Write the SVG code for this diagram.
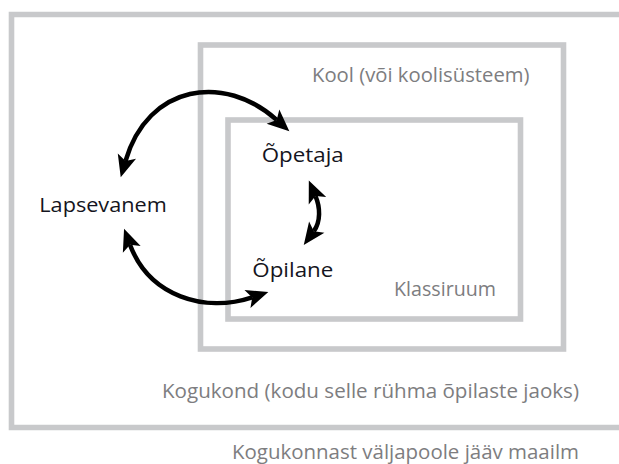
<svg xmlns="http://www.w3.org/2000/svg" width="619" height="464" viewBox="0 0 619 464">
<style>
.box{fill:none;stroke:#c8c9cb;stroke-width:5.6}
.lbl{font-family:"Open Sans","Noto Sans","Liberation Sans",sans-serif;font-size:20.5px;fill:#141420}
.zone{font-family:"Open Sans","Noto Sans","Liberation Sans",sans-serif;font-size:20.5px;fill:#7d7d80;text-anchor:end}
.arr{fill:none;stroke:#000;stroke-width:4.5;marker-start:url(#head);marker-end:url(#head)}
</style>
<defs>
<marker id="head" markerUnits="userSpaceOnUse" markerWidth="40" markerHeight="40" refX="0" refY="0" viewBox="-10 -20 40 40" orient="auto-start-reverse" overflow="visible">
<path d="M17,0 L-5,-9.5 L0,0 L-5,9.5 Z" fill="#000"/>
</marker>
</defs>
<g id="world">
<path class="box" d="M625,14.5 H11.5 V427.5 H625"/>
<text class="zone" x="579" y="459" textLength="347" lengthAdjust="spacingAndGlyphs">Kogukonnast väljapoole jääv maailm</text>
</g>
<g id="community">
<text class="zone" x="579" y="398" textLength="417" lengthAdjust="spacingAndGlyphs">Kogukond (kodu selle rühma õpilaste jaoks)</text>
</g>
<g id="school">
<rect class="box" x="200.5" y="45" width="363" height="304"/>
<text class="zone" x="529.5" y="82" textLength="217.5" lengthAdjust="spacingAndGlyphs">Kool (või koolisüsteem)</text>
</g>
<g id="classroom">
<rect class="box" x="228" y="120" width="292.5" height="199"/>
<text class="zone" x="496" y="295.5" textLength="102" lengthAdjust="spacingAndGlyphs">Klassiruum</text>
</g>
<g id="teacher">
<text class="lbl" x="261.7" y="162" textLength="82" lengthAdjust="spacingAndGlyphs">Õpetaja</text>
</g>
<g id="parent">
<text class="lbl" x="39.3" y="211.7" textLength="127.4" lengthAdjust="spacingAndGlyphs">Lapsevanem</text>
</g>
<g id="student">
<text class="lbl" x="252.3" y="276.5" textLength="81" lengthAdjust="spacingAndGlyphs">Õpilane</text>
</g>
<g id="connectors">
<path class="arr" d="M125.5,161 C148,84 224.6,73.1 276.7,119.9"/>
<path class="arr" d="M315.5,196.1 C320.2,207.1 320.9,221.5 313.8,231.2"/>
<path class="arr" d="M130,244.7 C149.3,296.4 204.7,313.2 252.2,297.4"/>
</g>
</svg>
